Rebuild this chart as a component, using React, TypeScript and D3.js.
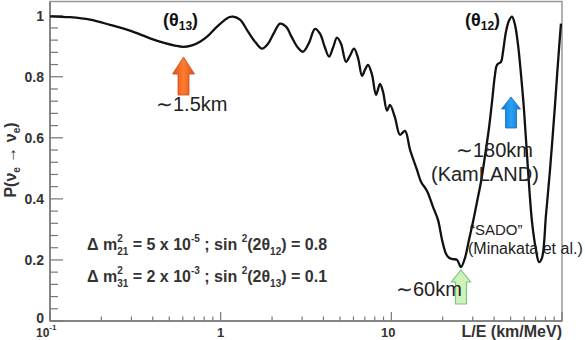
import React from "react";
import * as d3 from "d3";

// L/E (km/MeV) and survival probability
const LE = [
  0.1, 0.131, 0.1716, 0.2247, 0.2942, 0.3854, 0.4718, 0.54, 0.6016, 0.679,
  0.7566, 0.843, 0.939, 1.046, 1.119, 1.181, 1.298, 1.446, 1.589, 1.747,
  1.894, 2.054, 2.227, 2.415, 2.618, 2.839, 3.037, 3.293, 3.57, 3.819,
  4.087, 4.314, 4.552, 4.804, 5.072, 5.426, 5.726, 6.043, 6.378, 6.731,
  7.01, 7.299, 7.703, 8.133, 8.583, 8.939, 9.433, 9.822, 10.51, 11.24,
  12.03, 12.87, 14.14, 14.92, 16.18, 17.54, 18.77, 19.82, 20.91, 21.78,
  22.98, 24.26, 25.6, 27.02, 28.52, 30.1, 31.77, 33.53, 35.39, 37.36,
  38.9, 40.5, 41.6, 43.92, 45.12, 46.98, 48.93, 50.93, 53.04, 55.24,
  57.52, 59.89, 63.22, 66.73, 70.42, 73.33, 76.35, 80.58, 85.06, 91.0,
  94.8, 98.6,
];
const PROB = [
  0.998, 0.995, 0.987, 0.97, 0.951, 0.926, 0.91, 0.902, 0.898, 0.903,
  0.915, 0.934, 0.961, 0.984, 0.995, 0.997, 0.987, 0.948, 0.915, 0.892,
  0.908, 0.944, 0.974, 0.964, 0.928, 0.895, 0.882, 0.911, 0.957, 0.941,
  0.895, 0.866, 0.895, 0.928, 0.908, 0.849, 0.869, 0.892, 0.862, 0.803,
  0.823, 0.839, 0.807, 0.741, 0.777, 0.751, 0.689, 0.708, 0.666, 0.61,
  0.623, 0.561, 0.495, 0.456, 0.426, 0.374, 0.331, 0.266, 0.22, 0.207,
  0.203, 0.2, 0.177, 0.207, 0.266, 0.325, 0.39, 0.456, 0.541, 0.633,
  0.718, 0.807, 0.839, 0.849, 0.882, 0.948, 0.984, 0.997, 0.97, 0.905,
  0.807, 0.692, 0.495, 0.325, 0.233, 0.193, 0.207, 0.348, 0.495, 0.708,
  0.849, 0.974,
];

const X_MAJOR = [0.1, 1, 10, 100];
const X_MAJOR_LABELS = ["10", "1", "10", ""];
const Y_MAJOR = [0, 0.2, 0.4, 0.6, 0.8, 1];
const Y_LABELS = ["0", "0.2", "0.4", "0.6", "0.8", "1"];

const FONT = "'Liberation Sans', Arial, Helvetica, sans-serif";

function upArrow(cx: number, tip: number, bottom: number, headW: number, headH: number, shaftW: number) {
  const hw = headW / 2, sw = shaftW / 2;
  return `M${cx},${tip} L${cx + hw},${tip + headH} L${cx + sw},${tip + headH} L${cx + sw},${bottom} L${cx - sw},${bottom} L${cx - sw},${tip + headH} L${cx - hw},${tip + headH} Z`;
}

export default function App() {
  const x = d3.scaleLog().domain([0.1, 100]).range([50, 562]);
  const y = d3.scaleLinear().domain([0, 1]).range([321, 15.7]);
  const pts: [number, number][] = LE.map((v, i) => [v, PROB[i]]);
  const line = d3
    .line<[number, number]>()
    .x((d) => x(d[0]))
    .y((d) => y(d[1]))
    .curve(d3.curveCatmullRom.alpha(0.5));

  const xMinor: number[] = [];
  for (const dec of [0.1, 1, 10]) for (let k = 2; k <= 9; k++) xMinor.push(dec * k);
  const yMinor: number[] = [];
  for (let i = 0; i <= 25; i++) if (i % 5 !== 0) yMinor.push(i * 0.04);

  const txt = "#333";
  const pre = { whiteSpace: "pre" as const };

  return (
    <svg width={585} height={340} style={{ position: "absolute", left: 0, top: 0, background: "#fff" }} fontFamily={FONT}>
      <defs>
        <linearGradient id="org" x1="0" x2="1" y1="0" y2="0">
          <stop offset="0" stopColor="#d9541c" />
          <stop offset="0.5" stopColor="#ff7b2e" />
          <stop offset="1" stopColor="#d9541c" />
        </linearGradient>
        <linearGradient id="blu" x1="0" x2="1" y1="0" y2="0">
          <stop offset="0" stopColor="#1278d0" />
          <stop offset="0.5" stopColor="#2aa0f5" />
          <stop offset="1" stopColor="#1278d0" />
        </linearGradient>
      </defs>
      {/* frame */}
      <rect x={50} y={1.5} width={512} height={319.5} fill="none" stroke="#999" strokeWidth={1.5} />
      <line x1={50} x2={50} y1={1.5} y2={321} stroke="#777" strokeWidth={1.5} />
      <line x1={50} x2={562} y1={321} y2={321} stroke="#777" strokeWidth={1.5} />

      {/* x ticks */}
      {X_MAJOR.map((v) => (
        <line key={"xm" + v} x1={x(v)} x2={x(v)} y1={321} y2={312} stroke="#777" strokeWidth={1.2} />
      ))}
      {xMinor.map((v) => (
        <line key={"xn" + v} x1={x(v)} x2={x(v)} y1={321} y2={316.5} stroke="#777" strokeWidth={1.2} />
      ))}
      {/* y ticks */}
      {Y_MAJOR.map((v) => (
        <line key={"ym" + v} x1={50} x2={63} y1={y(v)} y2={y(v)} stroke="#777" strokeWidth={1.2} />
      ))}
      {yMinor.map((v) => (
        <line key={"yn" + v} x1={50} x2={58} y1={y(v)} y2={y(v)} stroke="#777" strokeWidth={1.2} />
      ))}

      {/* y labels */}
      {Y_MAJOR.map((v, i) => (
        <text key={"yl" + v} x={44} y={y(v) + (v === 0 ? 2 : 5)} textAnchor="end" fontSize={14} fontWeight="bold" fill={txt}>
          {Y_LABELS[i]}
        </text>
      ))}
      {/* x labels */}
      <text x={x(X_MAJOR[0]) - 14} y={337} fontSize={12} fontWeight="bold" fill={txt}>
        {X_MAJOR_LABELS[0]}
        <tspan dy={-7} fontSize={8}>-1</tspan>
      </text>
      <text x={x(X_MAJOR[1])} y={337} textAnchor="middle" fontSize={13} fontWeight="bold" fill={txt}>
        {X_MAJOR_LABELS[1]}
      </text>
      <text x={x(X_MAJOR[2]) - 3} y={337} textAnchor="middle" fontSize={13} fontWeight="bold" fill={txt}>
        {X_MAJOR_LABELS[2]}
      </text>
      <text x={562} y={337} textAnchor="end" fontSize={16} fontWeight="bold" fill={txt}>
        L/E (km/MeV)
      </text>

      {/* y title */}
      <text transform="translate(16,160) rotate(-90)" textAnchor="middle" fontSize={16} fontWeight="bold" fill={txt} style={pre}>
        P(ν
        <tspan dy={4} fontSize={10}>e</tspan>
        <tspan dy={-4}> → ν</tspan>
        <tspan dy={4} fontSize={10}>e</tspan>
        <tspan dy={-4}>)</tspan>
      </text>

      {/* curve */}
      <path d={line(pts) || ""} fill="none" stroke="#111" strokeWidth={2.3} strokeLinejoin="round" />

      {/* arrows */}
      <path d={upArrow(183.5, 57, 95, 22, 17, 11)} fill="url(#org)" stroke="#c94d16" strokeWidth={0.8} />
      <path d={upArrow(511, 97, 128, 19, 12, 11)} fill="url(#blu)" stroke="#1270c0" strokeWidth={0.8} />
      <path d={upArrow(461, 270, 304, 19, 12, 11)} fill="#cdf3bb" stroke="#7fc47f" strokeWidth={1.2} />

      {/* annotations */}
      <text x={163} y={26} fontSize={18} fontWeight="bold" fill="#111">
        (θ<tspan dy={4} fontSize={12}>13</tspan>
        <tspan dy={-4}>)</tspan>
      </text>
      <text x={465} y={26} fontSize={18} fontWeight="bold" fill="#111">
        (θ<tspan dy={4} fontSize={12}>12</tspan>
        <tspan dy={-4}>)</tspan>
      </text>
      <text x={156} y={111} fontSize={20} fill="#222" style={pre}>∼1.5km</text>
      <text x={456} y={157} fontSize={20} fill="#222" style={pre}>∼180km</text>
      <text x={431} y={181} fontSize={20} fill="#222">(KamLAND)</text>
      <text x={396} y={296} fontSize={20} fill="#222" style={pre}>∼60km</text>
      <text x={470} y={235} fontSize={15} fill="#222">“SADO”</text>
      <text x={468} y={254} fontSize={16} fill="#222">(Minakata et al.)</text>

      {/* parameters */}
      <text x={87} y={250} fontSize={16} fontWeight="bold" fill={txt} style={pre}>
        Δ m
        <tspan dy={-8} fontSize={10}>2</tspan>
        <tspan dx={-5.6} dy={13} fontSize={10}>21</tspan>
        <tspan dy={-5}> = 5 x 10</tspan>
        <tspan dy={-8} fontSize={10}>-5</tspan>
        <tspan dy={8}> ; sin </tspan>
        <tspan dy={-8} fontSize={10}>2</tspan>
        <tspan dy={8}>(2θ</tspan>
        <tspan dy={5} fontSize={10}>12</tspan>
        <tspan dy={-5}>) = 0.8</tspan>
      </text>
      <text x={87} y={282} fontSize={16} fontWeight="bold" fill={txt} style={pre}>
        Δ m
        <tspan dy={-8} fontSize={10}>2</tspan>
        <tspan dx={-5.6} dy={13} fontSize={10}>31</tspan>
        <tspan dy={-5}> = 2 x 10</tspan>
        <tspan dy={-8} fontSize={10}>-3</tspan>
        <tspan dy={8}> ; sin </tspan>
        <tspan dy={-8} fontSize={10}>2</tspan>
        <tspan dy={8}>(2θ</tspan>
        <tspan dy={5} fontSize={10}>13</tspan>
        <tspan dy={-5}>) = 0.1</tspan>
      </text>
    </svg>
  );
}
